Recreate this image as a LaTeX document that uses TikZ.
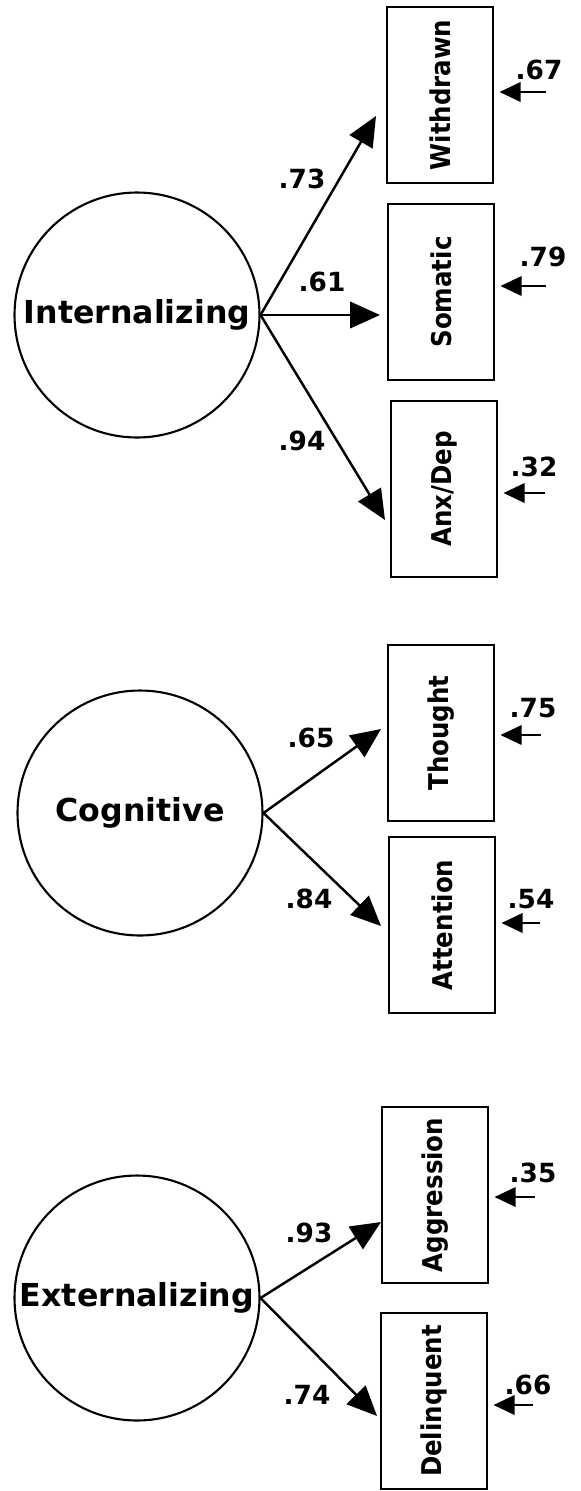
\documentclass[tikz,border=0pt]{standalone}
\usepackage{fontspec}
\setmainfont{DejaVu Sans}
\newfontfamily\condfont{DejaVu Sans Condensed}
\usepackage{graphicx}
\usetikzlibrary{arrows.meta, positioning, calc}
\newcommand{\uplabel}[1]{\rotatebox{90}{#1}}
\tikzset{
    factor/.style={
        circle,
        draw=black,
        line width=1.2pt,
        minimum size=4.9cm,
        inner sep=0pt,
        font=\fontsize{18}{20}\selectfont\bfseries
    },
    indicator/.style={
        rectangle,
        draw=black,
        line width=1.4pt,
        minimum width=2.12cm,
        minimum height=3.52cm,
        inner sep=0pt,
        font=\condfont\fontsize{15.5}{17}\selectfont\bfseries
    },
    loading/.style={
        draw=black,
        line width=1.4pt,
        -{Triangle[length=17pt, width=15pt]}
    },
    errarrow/.style={
        draw=black,
        line width=1.4pt,
        -{Triangle[length=12pt, width=11pt]},
        shorten >=3pt
    },
    coef/.style={
        font=\fontsize{15}{17}\selectfont\bfseries,
        inner sep=1pt
    }
}

\begin{document}
\begin{tikzpicture}[x=0.02cm, y=-0.02cm]
\useasboundingbox (0,0) rectangle (581,1491);

% Internalizing
\node[factor] (intern) at (137,315) {Internalizing};
\node[indicator] (withd) at (440,95) {\uplabel{Withdrawn}};
\node[indicator] (somat) at (441,292) {\uplabel{Somatic}};
\node[indicator] (anxdep) at (444,489) {\uplabel{Anx/Dep}};

\coordinate (withd_in) at (376,116);
\coordinate (somat_in) at (380,315);
\coordinate (anxdep_in) at (385,520);
\draw[loading] (intern.east) -- (withd_in);
\draw[loading] (intern.east) -- (somat_in);
\draw[loading] (intern.east) -- (anxdep_in);
\node[coef] (l_withd) at (302,179) {.73};
\node[coef] (l_somat) at (322,282) {.61};
\node[coef] (l_anxdep) at (302,441) {.94};

% Cognitive
\node[factor] (cognit) at (140,813) {Cognitive};
\node[indicator] (thought) at (441,733) {\uplabel{Thought}};
\node[indicator] (attent) at (442,925) {\uplabel{Attention}};

\coordinate (thought_in) at (381,729);
\coordinate (attent_in) at (381,926);
\draw[loading] (cognit.east) -- (thought_in);
\draw[loading] (cognit.east) -- (attent_in);
\node[coef] (l_thought) at (311,738) {.65};
\node[coef] (l_attent) at (309,899) {.84};

% Externalizing
\node[factor] (extern) at (137,1298) {Externalizing};
\node[indicator] (aggr) at (435,1195) {\uplabel{Aggression}};
\node[indicator] (delinq) at (434,1401) {\uplabel{Delinquent}};

\coordinate (aggr_in) at (381,1222);
\coordinate (delinq_in) at (377,1416);
\draw[loading] (extern.east) -- (aggr_in);
\draw[loading] (extern.east) -- (delinq_in);
\node[coef] (l_aggr) at (309,1233) {.93};
\node[coef] (l_delinq) at (307,1395) {.74};

% Residuals
\coordinate (e_withd) at (546,92);
\coordinate (e_somat) at (546,286);
\coordinate (e_anxdep) at (545,493);
\coordinate (e_thought) at (541,735);
\coordinate (e_attent) at (540,923);
\coordinate (e_aggr) at (535,1197);
\coordinate (e_delinq) at (533,1405);
\draw[errarrow] (e_withd) -- (withd.east |- e_withd);
\draw[errarrow] (e_somat) -- (somat.east |- e_somat);
\draw[errarrow] (e_anxdep) -- (anxdep.east |- e_anxdep);
\draw[errarrow] (e_thought) -- (thought.east |- e_thought);
\draw[errarrow] (e_attent) -- (attent.east |- e_attent);
\draw[errarrow] (e_aggr) -- (aggr.east |- e_aggr);
\draw[errarrow] (e_delinq) -- (delinq.east |- e_delinq);

\node[coef] (r_withd) at (539,70) {.67};
\node[coef] (r_somat) at (543,257) {.79};
\node[coef] (r_anxdep) at (534,467) {.32};
\node[coef] (r_thought) at (533,708) {.75};
\node[coef] (r_attent) at (531,899) {.54};
\node[coef] (r_aggr) at (533,1173) {.35};
\node[coef] (r_delinq) at (528,1385) {.66};

\end{tikzpicture}
\end{document}
